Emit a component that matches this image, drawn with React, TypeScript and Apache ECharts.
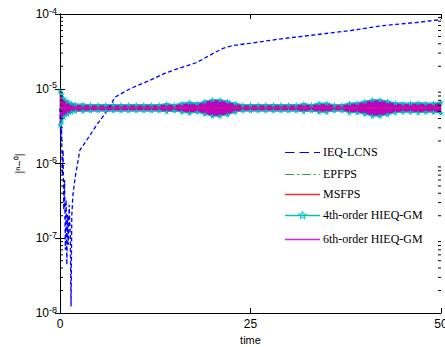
import React, { useEffect, useRef } from "react";
import * as echarts from "echarts";

// ---------- data ----------
const xTicks = [0, 25, 50];
const yExponents = ["-8", "-7", "-6", "-5", "-4"];
const seriesNames = ["IEQ-LCNS", "EPFPS", "MSFPS", "4th-order HIEQ-GM", "6th-order HIEQ-GM"];

// IEQ-LCNS (blue dashed)
const blueT = [0, 0.1, 0.2, 0.3, 0.4, 0.5, 0.6, 0.7, 0.8, 0.9, 1.0, 1.1, 1.2, 1.35, 1.45, 1.55, 1.7, 2.0, 2.6, 3.7, 5.0, 6.3, 7.2, 9.2, 11.8, 14, 18, 20.1, 21.4, 22.7, 24.9, 29.3, 33.7, 38.1, 42.4, 46.8, 50];
const blueV = [5.5e-6, 2.06e-6, 3.26e-6, 7.0e-7, 1.51e-6, 2.4e-7, 6.0e-7, 7.0e-8, 3.26e-7, 4.4e-8, 2.06e-7, 8.2e-8, 2.8e-7, 1.11e-7, 1.22e-8, 2.06e-7, 3.8e-7, 6.6e-7, 1.5e-6, 2.2e-6, 3.5e-6, 5.2e-6, 7.7e-6, 1.0e-5, 1.3e-5, 1.65e-5, 2.26e-5, 2.97e-5, 3.47e-5, 3.8e-5, 4.05e-5, 4.7e-5, 5.3e-5, 6.0e-5, 7.0e-5, 7.7e-5, 8.4e-5];

// EPFPS / MSFPS / 6th-order (hidden beneath the band)
const flatT = [0, 50];
const epfpsV = [5.5e-6, 5.5e-6];
const msfpsV = [5.5e-6, 5.5e-6];
const hieq6V = [5.5e-6, 5.5e-6];

// band envelopes (values in units of 1e-6)
const micro = 1e-6;
const bandT = [0, 0.25, 0.5, 1, 1.5,
  2, 3, 4, 5, 6, 7, 8, 9, 10, 11,
  12, 13, 14, 15, 16, 17, 18, 19, 20, 21,
  22, 23, 24, 25, 26, 27, 28, 29, 30, 31,
  32, 33, 34, 35, 36, 37, 38, 39, 40, 41,
  42, 43, 44, 45, 46, 47, 48, 49, 50];
const cyanHi = [9.26, 8.45, 7.47, 6.81, 6.41,
  6.21, 6.21, 6.12, 6.12, 6.12, 6.12, 6.12, 6.12, 6.12, 6.12,
  6.12, 6.12, 6.31, 6.12, 6.41, 6.61, 6.41, 6.81, 7.13, 7.13,
  6.81, 6.41, 6.12, 6.12, 6.12, 6.12, 6.12, 6.12, 6.12, 6.12,
  6.31, 6.12, 6.41, 6.41, 6.12, 6.12, 6.41, 6.51, 6.81, 7.13,
  7.13, 6.81, 6.51, 6.41, 6.41, 6.51, 6.41, 6.41, 6.61];
const cyanLo = [3.26, 3.58, 4.17, 4.57, 4.86,
  5.01, 5.01, 5.09, 5.09, 5.09, 5.09, 5.09, 5.09, 5.09, 5.09,
  5.09, 5.09, 4.94, 5.09, 4.86, 4.71, 4.86, 4.57, 4.30, 4.30,
  4.50, 4.86, 5.09, 5.09, 5.09, 5.09, 5.09, 5.09, 5.09, 5.09,
  4.94, 5.09, 4.86, 4.86, 5.09, 5.09, 4.79, 4.79, 4.57, 4.30,
  4.30, 4.50, 4.79, 4.86, 4.86, 4.79, 4.86, 4.86, 4.71];
const magHi = [8.71, 7.94, 7.03, 6.41, 6.21,
  6.03, 6.03, 6.03, 6.03, 6.03, 6.03, 6.03, 6.03, 6.03, 6.03,
  6.03, 6.03, 6.12, 6.03, 6.21, 6.31, 6.12, 6.61, 7.03, 6.92,
  6.61, 6.21, 6.03, 6.03, 6.03, 6.03, 6.03, 6.03, 6.03, 6.03,
  6.12, 6.03, 6.21, 6.21, 6.03, 6.03, 6.21, 6.31, 6.61, 6.92,
  6.92, 6.61, 6.31, 6.21, 6.21, 6.31, 6.21, 6.21, 6.41];
const magLo = [3.16, 3.80, 4.43, 4.71, 4.94,
  5.01, 5.01, 5.01, 5.01, 5.01, 5.01, 5.01, 5.01, 5.01, 5.01,
  5.01, 5.01, 4.94, 5.01, 4.94, 4.79, 4.94, 4.71, 4.30, 4.36,
  4.57, 4.94, 5.01, 5.01, 5.01, 5.01, 5.01, 5.01, 5.01, 5.01,
  5.01, 5.01, 4.94, 4.94, 5.01, 5.01, 4.86, 4.86, 4.71, 4.43,
  4.43, 4.64, 4.86, 4.94, 4.94, 4.86, 4.94, 4.94, 4.79];

// log-axis minor ticks
const decades = [1e-8, 1e-7, 1e-6, 1e-5];
const minorMult = [2, 3, 4, 5, 6, 7, 8, 9];

// ---------- styling ----------
const X_MIN = 0;
const X_MAX = 50;
const BLUE = "#0000ff";
const GREEN = "#3a9e3a";
const RED = "#ee3030";
const CYAN = "#00bfbf";
const MAG_BAND = "#c000c0";
const MAG_LINE = "#dd22dd";
const SANS = "Liberation Sans, Arial, sans-serif";
const SERIF = "Liberation Serif, Times New Roman, serif";
const STAR = "path://M50,0 L61.2,34.5 L97.6,34.5 L68.2,55.9 L79.4,90.5 L50,69.1 L20.6,90.5 L31.8,55.9 L2.4,34.5 L38.8,34.5 Z";

function pairs(t: number[], v: number[], k = 1) {
  return t.map((x, i) => [x, v[i] * k]);
}

function bandSeries(hi: number[], lo: number[], color: string) {
  return {
    type: "custom",
    silent: true,
    data: bandT.map((t, i) => [t, hi[i] * micro, lo[i] * micro]),
    encode: { x: 0, y: [1, 2] },
    renderItem: (params: any, api: any) => {
      if (params.dataIndex !== 0) return null;
      const top = bandT.map((t, i) => api.coord([t, hi[i] * micro]));
      const bot = bandT.map((t, i) => api.coord([t, lo[i] * micro])).reverse();
      return {
        type: "polygon",
        shape: { points: top.concat(bot) },
        style: { fill: color, stroke: color, lineWidth: 0.5 },
      };
    },
  };
}

const minorTicks: number[] = [];
decades.forEach((d) => minorMult.forEach((m) => minorTicks.push(d * m)));

// ---------- legend (drawn as graphics) ----------
const LEG_X0 = 285;
const LEG_X1 = 320;
const LEG_TX = 323;
const legendRows = [152, 174, 194, 215, 239];
const legendColors = [BLUE, GREEN, RED, CYAN, MAG_LINE];
const legendDash: (number[] | null)[] = [[9.5, 5], [9, 3, 2, 3], null, null, null];
const starPts = [
  [0, -4.2], [1.0, -1.375], [4.0, -1.3], [1.62, 0.525], [2.47, 3.4],
  [0, 1.7], [-2.47, 3.4], [-1.62, 0.525], [-4.0, -1.3], [-1.0, -1.375],
];
const legendGraphics: any[] = [];
seriesNames.forEach((name, i) => {
  const cy = legendRows[i];
  const dash = legendDash[i];
  if (dash) {
    legendGraphics.push({
      type: "line",
      silent: true,
      shape: { x1: LEG_X0, y1: cy + 0.5, x2: LEG_X1, y2: cy + 0.5 },
      style: { stroke: legendColors[i], lineWidth: 1.2, lineDash: dash },
    });
  } else {
    legendGraphics.push({
      type: "rect",
      silent: true,
      shape: { x: LEG_X0, y: cy - 0.25, width: LEG_X1 - LEG_X0, height: 1.5 },
      style: { fill: legendColors[i] },
    });
  }
  if (i === 3) {
    legendGraphics.push({
      type: "polygon",
      silent: true,
      x: (LEG_X0 + LEG_X1) / 2,
      y: cy + 0.5,
      shape: { points: starPts },
      style: { fill: "none", stroke: CYAN, lineWidth: 1 },
    });
  }
  legendGraphics.push({
    type: "text",
    silent: true,
    x: LEG_TX,
    y: cy,
    style: {
      text: name,
      fontFamily: SERIF,
      fontSize: 12,
      fill: "#000",
      verticalAlign: "middle",
      align: "left",
    },
  });
});

const axisLineStyle = { color: "#000", width: 1 };

const option: any = {
  animation: false,
  backgroundColor: "#fff",
  grid: { left: 60, right: 4, top: 14, bottom: 34, containLabel: false, outerBoundsMode: "none" },
  graphic: legendGraphics,
  xAxis: [
    {
      type: "value",
      min: X_MIN,
      max: X_MAX,
      interval: 25,
      position: "bottom",
      axisLine: { show: true, lineStyle: axisLineStyle },
      axisTick: { show: true, inside: true, length: 5, lineStyle: axisLineStyle },
      axisLabel: {
        show: true,
        margin: 5,
        color: "#000",
        fontFamily: SANS,
        fontSize: 12,
        hideOverlap: false,
        formatter: (v: number) => (xTicks.indexOf(v) >= 0 ? String(v) : ""),
      },
      splitLine: { show: false },
      name: "time",
      nameLocation: "middle",
      nameGap: 18,
      nameTextStyle: { color: "#000", fontFamily: SANS, fontSize: 11 },
    },
    {
      type: "value",
      min: X_MIN,
      max: X_MAX,
      interval: 25,
      position: "top",
      axisLine: { show: true, lineStyle: axisLineStyle },
      axisTick: { show: true, inside: true, length: 5, lineStyle: axisLineStyle },
      axisLabel: { show: false },
      splitLine: { show: false },
    },
  ],
  yAxis: [
    {
      type: "log",
      logBase: 10,
      min: 1e-8,
      max: 1e-4,
      position: "left",
      axisLine: { show: true, lineStyle: axisLineStyle },
      axisTick: { show: true, inside: true, length: 5, lineStyle: axisLineStyle },
      axisLabel: {
        margin: 3,
        formatter: (v: number) => {
          const e = Math.round(Math.log10(v));
          return `{b|10}{s|${yExponents[e + 8]}}`;
        },
        rich: {
          b: { fontFamily: SANS, fontSize: 12, color: "#000", lineHeight: 16, verticalAlign: "middle" },
          s: { fontFamily: SANS, fontSize: 9, color: "#000", lineHeight: 16, verticalAlign: "top" },
        },
      },
      splitLine: { show: false },
      name: "|ⁿ−⁰|",
      nameLocation: "middle",
      nameGap: 32,
      nameTextStyle: { color: "#000", fontFamily: SANS, fontSize: 11 },
    },
    {
      type: "log",
      logBase: 10,
      min: 1e-8,
      max: 1e-4,
      position: "right",
      axisLine: { show: true, lineStyle: axisLineStyle },
      axisTick: { show: true, inside: true, length: 5, lineStyle: axisLineStyle },
      axisLabel: { show: false },
      splitLine: { show: false },
    },
  ],
  series: [
    {
      name: seriesNames[0],
      type: "line",
      data: pairs(blueT, blueV),
      symbol: "none",
      lineStyle: { color: BLUE, width: 1.3, type: [4, 2.5] },
      itemStyle: { color: BLUE },
    },
    {
      name: seriesNames[1],
      type: "line",
      data: pairs(flatT, epfpsV),
      symbol: "none",
      lineStyle: { color: GREEN, width: 1, type: [9, 3, 2, 3] },
      itemStyle: { color: GREEN },
    },
    {
      name: seriesNames[2],
      type: "line",
      data: pairs(flatT, msfpsV),
      symbol: "none",
      lineStyle: { color: RED, width: 1 },
      itemStyle: { color: RED },
    },
    bandSeries(cyanHi, cyanLo, CYAN),
    {
      name: seriesNames[3],
      type: "line",
      data: pairs(bandT, cyanHi, micro),
      symbol: STAR,
      symbolSize: 6,
      showAllSymbol: true,
      lineStyle: { color: CYAN, width: 1 },
      itemStyle: { color: CYAN },
    },
    {
      name: seriesNames[3],
      type: "line",
      data: pairs(bandT, cyanLo, micro),
      symbol: STAR,
      symbolSize: 6,
      showAllSymbol: true,
      lineStyle: { color: CYAN, width: 1 },
      itemStyle: { color: CYAN },
    },
    bandSeries(magHi, magLo, MAG_BAND),
    {
      name: seriesNames[4],
      type: "line",
      data: pairs(flatT, hieq6V),
      symbol: "none",
      lineStyle: { color: MAG_BAND, width: 1 },
      itemStyle: { color: MAG_LINE },
    },
    {
      type: "custom",
      silent: true,
      clip: false,
      z: 10,
      data: minorTicks.map((v) => [X_MIN, v]),
      encode: { x: 0, y: 1 },
      renderItem: (params: any, api: any) => {
        const v = api.value(1);
        const l = api.coord([X_MIN, v]);
        const r = api.coord([X_MAX, v]);
        return {
          type: "group",
          children: [
            { type: "line", shape: { x1: l[0], y1: l[1], x2: l[0] + 3, y2: l[1] }, style: { stroke: "#000", lineWidth: 1 } },
            { type: "line", shape: { x1: r[0] - 3, y1: r[1], x2: r[0], y2: r[1] }, style: { stroke: "#000", lineWidth: 1 } },
          ],
        };
      },
    },
  ],
};

export default function App() {
  const ref = useRef<HTMLDivElement>(null);
  useEffect(() => {
    if (!ref.current) return;
    const chart = echarts.init(ref.current, null, { renderer: "svg" });
    chart.setOption(option);
    return () => chart.dispose();
  }, []);
  return (
    <div
      ref={ref}
      style={{ position: "fixed", left: 0, top: 0, width: 445, height: 347, background: "#fff" }}
    />
  );
}
